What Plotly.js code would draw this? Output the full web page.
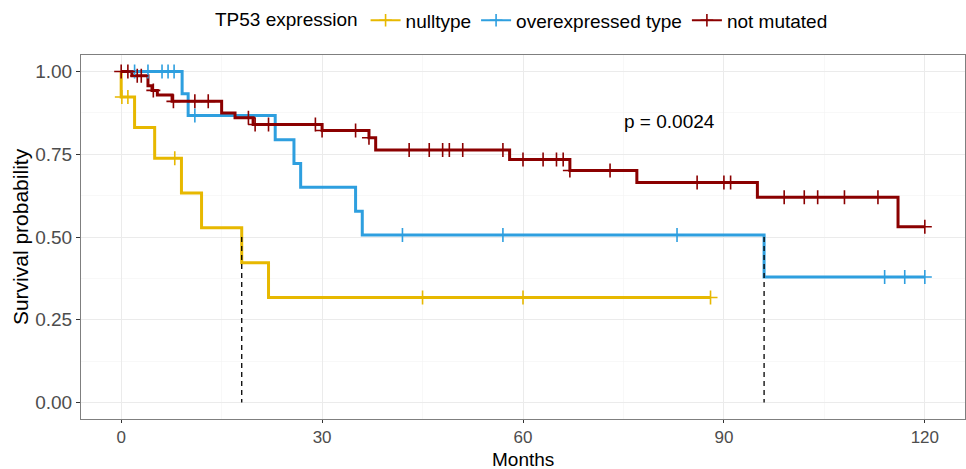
<!DOCTYPE html>
<html>
<head>
<meta charset="utf-8">
<script src="https://cdn.plot.ly/plotly-3.0.1.min.js"></script>
<style>html,body{margin:0;padding:0;background:#fff;}#chart{width:966px;height:469px;}</style>
</head>
<body>
<div id="chart"></div>
<script>
// ---- data ----
var groupNames = ["nulltype", "overexpressed type", "not mutated"];
var groupColors = ["#E7B800", "#2E9FDF", "#8B0000"];

var nullTime = [0, 0, 2, 5, 9, 12, 18, 22, 88];
var nullSurv = [1, 0.923, 0.831, 0.738, 0.633, 0.528, 0.422, 0.317, 0.317];
var nullCens = [0.1, 1, 8, 45, 60, 88];

var overTime = [0, 9.1, 10, 23, 25.8, 26.8, 35, 36, 96, 120];
var overSurv = [1, 0.933, 0.867, 0.794, 0.722, 0.650, 0.578, 0.506, 0.379, 0.379];
var overCens = [2, 4, 6.1, 7, 7.9, 11, 42, 57, 83, 114, 117, 120];

var notTime = [0, 1.6, 4, 4.6, 5.4, 7.6, 15, 17, 19.7, 30, 37, 38, 58, 67, 77, 95, 116, 120];
var notSurv = [1, 0.987, 0.957, 0.943, 0.929, 0.910, 0.875, 0.860, 0.840, 0.822, 0.800, 0.763, 0.734, 0.701, 0.665, 0.620, 0.531, 0.531];
var notCens = [0, 1, 2.4, 3, 4.8, 7.8, 11, 13, 19, 20, 22, 29, 30, 35, 37, 43, 46, 48, 49, 51, 57, 60, 63, 65, 66, 67, 73, 86, 90, 91, 99, 102, 104, 108, 113, 120];

var medianTimes = [18, 96];
var medianLevel = [0.5, 0];
var pText = "p = 0.0024";
var xTitle = "Months";
var xTicks = [0, 30, 60, 90, 120];
var yTicks = [0, 0.25, 0.5, 0.75, 1];
var yTickText = ["0.00", "0.25", "0.50", "0.75", "1.00"];

// ---- helpers ----
function stepAt(times, surv, t) {
  var v = surv[0];
  for (var i = 0; i < times.length; i++) { if (times[i] <= t) v = surv[i]; }
  return v;
}

var series = [
  {t: nullTime, s: nullSurv, c: nullCens},
  {t: overTime, s: overSurv, c: overCens},
  {t: notTime, s: notSurv, c: notCens}
];

var FONT = "Liberation Sans, Arial, sans-serif";
var traces = [];

series.forEach(function (g, i) {
  traces.push({
    x: g.t, y: g.s, type: "scatter", mode: "lines",
    line: {shape: "hv", color: groupColors[i], width: 3},
    showlegend: false, hoverinfo: "skip"
  });
});

medianTimes.forEach(function (m) {
  traces.push({
    x: [m, m], y: medianLevel, type: "scatter", mode: "lines",
    line: {color: "#000000", width: 1.3, dash: "5px,4px"},
    showlegend: false, hoverinfo: "skip"
  });
});

series.forEach(function (g, i) {
  traces.push({
    x: g.c, y: g.c.map(function (t) { return stepAt(g.t, g.s, t); }),
    type: "scatter", mode: "markers",
    marker: {symbol: "cross-thin", size: 10, line: {color: groupColors[i], width: 1.6}},
    showlegend: false, hoverinfo: "skip"
  });
});

// legend entries
series.forEach(function (g, i) {
  traces.push({
    x: [null], y: [null], type: "scatter", mode: "lines+markers", name: groupNames[i],
    line: {color: groupColors[i], width: 2},
    marker: {symbol: "cross-thin", size: 9, line: {color: groupColors[i], width: 1.6}},
    showlegend: true
  });
});

var layout = {
  width: 966, height: 469,
  margin: {l: 81, r: 1, t: 52, b: 50},
  paper_bgcolor: "#ffffff", plot_bgcolor: "#ffffff",
  font: {family: FONT, size: 19, color: "#000000"},
  showlegend: true,
  legend: {
    orientation: "h", x: 0.5, xanchor: "center", y: 1.095, yanchor: "middle",
    title: {text: "TP53 expression", side: "left", font: {family: FONT, size: 19, color: "#000"}},
    font: {family: FONT, size: 19, color: "#000"},
    itemwidth: 30, traceorder: "normal", bgcolor: "rgba(0,0,0,0)"
  },
  xaxis: {
    range: [-6, 126], tickmode: "array", tickvals: xTicks, ticktext: xTicks.map(String),
    ticks: "outside", ticklen: 3, tickwidth: 1, tickcolor: "#333333",
    tickfont: {family: FONT, size: 17, color: "#4D4D4D"},
    showgrid: true, gridcolor: "#EBEBEB", gridwidth: 1,
    minor: {tickmode: "array", tickvals: [15, 45, 75, 105], showgrid: true, gridcolor: "#F3F3F3", gridwidth: 0.6, ticks: ""},
    zeroline: false, showline: true, mirror: true, linecolor: "#7F7F7F", linewidth: 1
  },
  yaxis: {
    range: [-0.05, 1.05], tickmode: "array", tickvals: yTicks, ticktext: yTickText,
    ticks: "outside", ticklen: 4, tickwidth: 1, tickcolor: "#333333",
    tickfont: {family: FONT, size: 19, color: "#4D4D4D"},
    showgrid: true, gridcolor: "#EBEBEB", gridwidth: 1,
    minor: {tickmode: "array", tickvals: [0.125, 0.375, 0.625, 0.875], showgrid: true, gridcolor: "#F3F3F3", gridwidth: 0.6, ticks: ""},
    zeroline: false, showline: true, mirror: true, linecolor: "#7F7F7F", linewidth: 1,
    title: {text: "Survival probability", font: {family: FONT, size: 21, color: "#000"}, standoff: 0}
  },
  annotations: [{
    x: 74.8, y: 0.848, xref: "x", yref: "y", text: pText, showarrow: false,
    xanchor: "left", yanchor: "middle", font: {family: FONT, size: 19, color: "#000"}
  }, {
    x: 0.5, y: -0.142, xref: "paper", yref: "paper", text: xTitle, showarrow: false,
    xanchor: "center", yanchor: "bottom", borderpad: 0,
    font: {family: FONT, size: 19, color: "#000"}
  }]
};

Plotly.newPlot("chart", traces, layout, {displayModeBar: false, staticPlot: true});
</script>
</body>
</html>
